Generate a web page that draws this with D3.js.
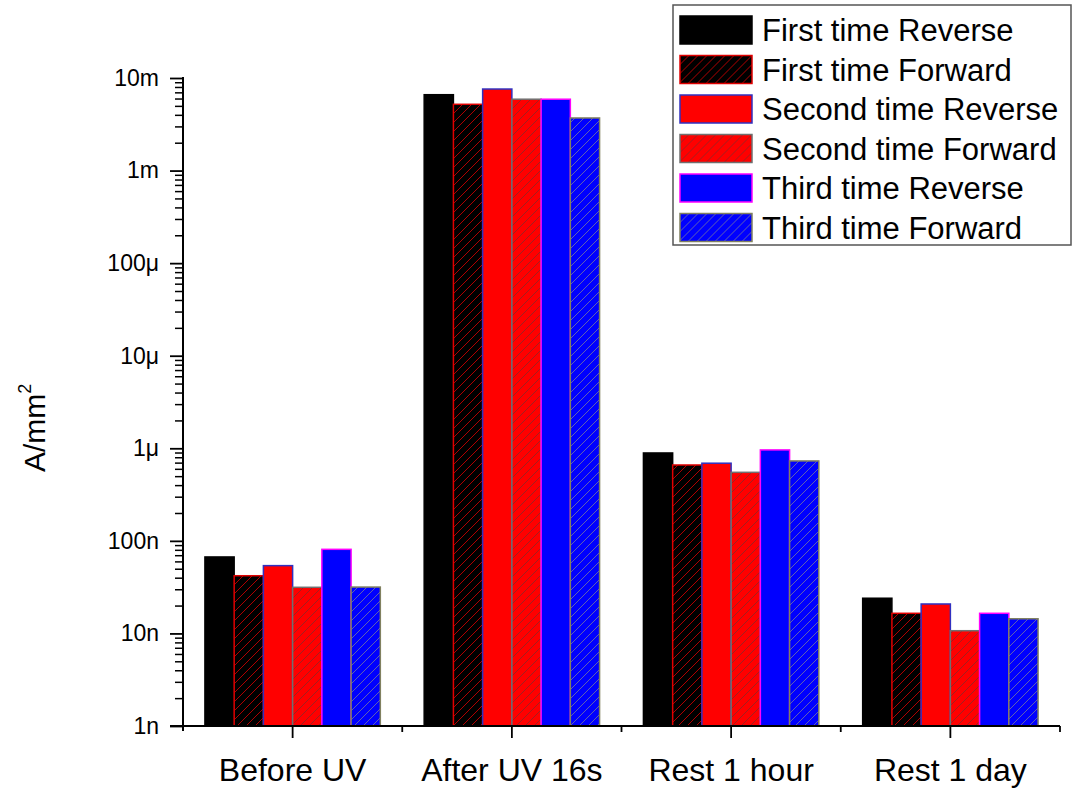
<!DOCTYPE html>
<html lang="en">
<head>
<meta charset="utf-8">
<title>Current density bars</title>
<script src="https://d3js.org/d3.v7.min.js"></script>
<style>
  body { margin: 0; background: #fff; }
  text { font-family: "Liberation Sans", Arial, sans-serif; fill: #000; }
</style>
</head>
<body>
<script>
// data (A/mm^2)
var groups = ["Before UV", "After UV 16s", "Rest 1 hour", "Rest 1 day"];
var seriesNames = ["First time Reverse", "First time Forward", "Second time Reverse",
                   "Second time Forward", "Third time Reverse", "Third time Forward"];
var firstReverse  = [67e-9, 6.6e-3, 890e-9, 24e-9];
var firstForward  = [42e-9, 5.2e-3, 660e-9, 16.5e-9];
var secondReverse = [54e-9, 7.6e-3, 690e-9, 20.8e-9];
var secondForward = [31.5e-9, 5.9e-3, 550e-9, 10.7e-9];
var thirdReverse  = [81e-9, 5.9e-3, 960e-9, 16.5e-9];
var thirdForward  = [31.7e-9, 3.7e-3, 730e-9, 14.4e-9];
var yTickValues = [1e-9, 1e-8, 1e-7, 1e-6, 1e-5, 1e-4, 1e-3, 1e-2];
var yTickLabels = ["1n", "10n", "100n", "1\u03bc", "10\u03bc", "100\u03bc", "1m", "10m"];

var seriesValues = [firstReverse, firstForward, secondReverse, secondForward, thirdReverse, thirdForward];

// styles for each series
var styles = [
  {fill: "#000000", stroke: "#000000", hatch: null},
  {fill: "#000000", stroke: "#e00000", hatch: "#b00000"},
  {fill: "#ff0000", stroke: "#3030c0", hatch: null},
  {fill: "#ff0000", stroke: "#707070", hatch: "#a02020"},
  {fill: "#0000ff", stroke: "#ff00ff", hatch: null},
  {fill: "#0000ff", stroke: "#808060", hatch: "#6060b0"}
];

var W = 1074, H = 796;
var plotLeft = 183, plotRight = 1060, plotTop = 78, plotBottom = 726;

var svg = d3.select("body").append("svg")
    .attr("width", W)
    .attr("height", H);

var defs = svg.append("defs");
styles.forEach(function(s, i) {
  if (!s.hatch) return;
  var p = defs.append("pattern")
      .attr("id", "hatch" + i)
      .attr("patternUnits", "userSpaceOnUse")
      .attr("width", 9)
      .attr("height", 9);
  p.append("rect").attr("width", 9).attr("height", 9).attr("fill", s.fill);
  p.append("path")
      .attr("d", "M0,9 L9,0 M-2,2 L2,-2 M7,11 L11,7")
      .attr("stroke", s.hatch)
      .attr("stroke-width", 1);
});
function fillOf(i) {
  return styles[i].hatch ? "url(#hatch" + i + ")" : styles[i].fill;
}

var x = d3.scaleBand()
    .domain(groups)
    .range([plotLeft, plotRight])
    .paddingInner(0.2)
    .paddingOuter(0.1);

var xInner = d3.scaleBand()
    .domain(d3.range(seriesNames.length))
    .range([0, x.bandwidth()]);

var y = d3.scaleLog()
    .domain([1e-9, 1e-2])
    .range([plotBottom, plotTop]);

// bars
var rows = [];
groups.forEach(function(g, gi) {
  seriesValues.forEach(function(vals, si) {
    rows.push({group: g, s: si, v: vals[gi]});
  });
});

svg.append("g").selectAll("rect")
  .data(rows)
  .enter().append("rect")
    .attr("x", function(d) { return x(d.group) + xInner(d.s); })
    .attr("y", function(d) { return y(d.v); })
    .attr("width", xInner.bandwidth())
    .attr("height", function(d) { return plotBottom - y(d.v); })
    .attr("fill", function(d) { return fillOf(d.s); })
    .attr("stroke", function(d) { return styles[d.s].stroke; })
    .attr("stroke-width", 1.5);

// y axis: major + minor ticks
var minor = [];
for (var e = -9; e < -2; e++) {
  for (var m = 2; m <= 9; m++) minor.push(m * Math.pow(10, e));
}

var yAxis = svg.append("g")
    .attr("transform", "translate(" + plotLeft + ",0)")
    .call(d3.axisLeft(y)
      .tickValues(yTickValues)
      .tickSize(13)
      .tickPadding(11)
      .tickFormat(function(d, i) { return yTickLabels[i]; }));
yAxis.select(".domain").attr("stroke-width", 2).attr("d", "M0," + (plotTop - 1) + "V" + (plotBottom + 5));
yAxis.selectAll(".tick line").attr("stroke-width", 1.8);
yAxis.selectAll(".tick text").style("font-size", "23px").style("font-family", "Liberation Sans, Arial, sans-serif");

var yMinor = svg.append("g")
    .attr("transform", "translate(" + plotLeft + ",0)")
    .call(d3.axisLeft(y).tickValues(minor).tickSize(8).tickFormat(""));
yMinor.select(".domain").remove();
yMinor.selectAll(".tick line").attr("stroke-width", 1.5);

// x axis
var xAxis = svg.append("g")
    .attr("transform", "translate(0," + plotBottom + ")")
    .call(d3.axisBottom(x).tickSize(12).tickPadding(20));
xAxis.select(".domain").attr("stroke-width", 2).attr("d", "M" + (plotLeft - 13) + ",0H" + plotRight);
xAxis.selectAll(".tick line").attr("stroke-width", 1.8);
xAxis.selectAll(".tick text").style("font-size", "32px").style("font-family", "Liberation Sans, Arial, sans-serif");

var xMinor = svg.append("g")
    .attr("transform", "translate(0," + plotBottom + ")");
xMinor.selectAll("line")
  .data(d3.range(1, groups.length + 1))
  .enter().append("line")
    .attr("x1", function(k) { return plotLeft + k * x.step(); })
    .attr("x2", function(k) { return plotLeft + k * x.step(); })
    .attr("y1", 0)
    .attr("y2", 6)
    .attr("stroke", "#000")
    .attr("stroke-width", 1.8);

// y label
svg.append("text")
    .attr("transform", "translate(45,472) rotate(-90)")
    .style("font-size", "30px")
    .text("A/mm")
  .append("tspan")
    .attr("dy", -14)
    .style("font-size", "18px")
    .text("2");

// legend
var legend = svg.append("g");
legend.append("rect")
    .attr("x", 673).attr("y", 5)
    .attr("width", 398).attr("height", 240)
    .attr("fill", "#fff")
    .attr("stroke", "#555")
    .attr("stroke-width", 1.5);

var li = legend.selectAll(".item")
  .data(seriesNames)
  .enter().append("g")
    .attr("class", "item")
    .attr("transform", function(d, i) { return "translate(680," + (16 + i * 39.5) + ")"; });
li.append("rect")
    .attr("width", 72).attr("height", 28)
    .attr("fill", function(d, i) { return fillOf(i); })
    .attr("stroke", function(d, i) { return styles[i].stroke; })
    .attr("stroke-width", 1.5);
li.append("text")
    .attr("x", 82)
    .attr("y", 25)
    .style("font-size", "31px")
    .text(function(d) { return d; });
</script>
</body>
</html>
